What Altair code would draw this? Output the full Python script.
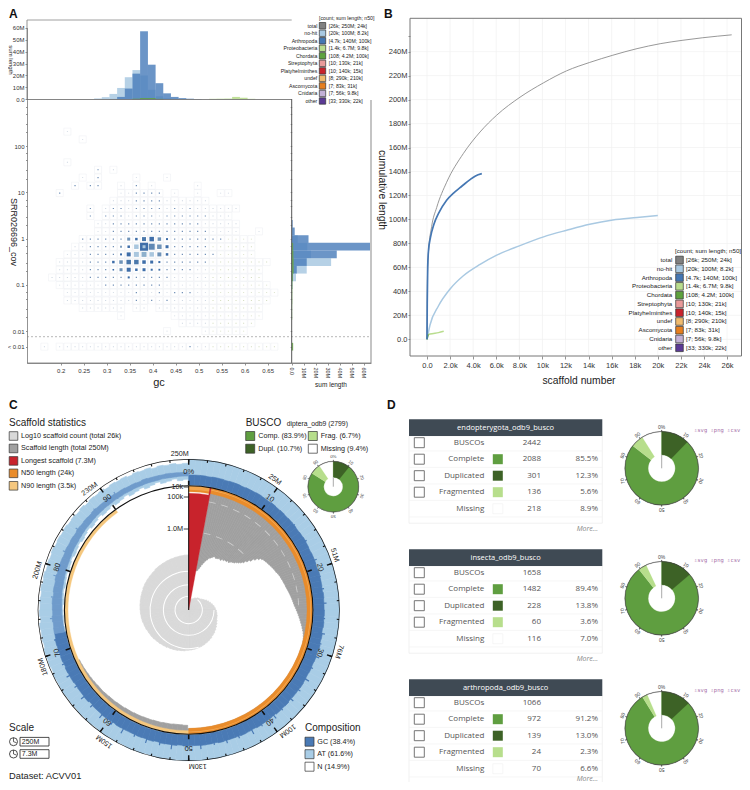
import math
import altair as alt
import pandas as pd

W, H = 734, 774
FONT = "Liberation Sans"
TFONT = "Open Sans"

# ---------- panel A data ----------
row_cov = [207, 141, 96, 66, 45, 31, 21, 14, 9.7, 6.6, 4.5, 3.1, 2.1, 1.44, 0.98, 0.67, 0.457, 0.312,
           0.213, 0.145, 0.099, 0.068, 0.046, 0.0316, 0.0214, 0.0148, 0.01, 0.0046]
def r(a, b):
    return list(range(a, b + 1))
row_cols = [[1], [3], [], [], [1], [5, 7], [3, 5, 10, 14], [2, 4, 5, 8, 10, 12, 18],
            [0, 8, 9, 10, 11, 12, 13, 15, 18, 21, 22], r(7, 19), [4] + r(6, 23), [4] + r(6, 22),
            r(5, 23), r(5, 23) + [26], r(3, 25), r(2, 25), r(1, 25), r(0, 27), r(0, 26), r(-1, 26),
            r(0, 27), r(1, 28), r(1, 27), r(3, 8) + [10, 11] + r(13, 26), [8] + r(15, 26), r(16, 25),
            [14] + r(19, 24), [-2] + r(0, 28)]
row_dark = {0: [], 1: [], 4: [], 5: [5], 6: [5], 7: [2, 4, 5, 10], 8: [0, 10, 11, 12, 13], 9: [10, 11, 12, 13],
            10: [4, 7, 8, 10, 11, 12, 13, 15, 17], 11: [4, 6, 7, 8, 10, 11, 12, 14, 15, 16, 17, 18, 19],
            12: r(7, 18), 13: r(7, 19), 14: r(3, 8) + r(15, 21), 15: r(4, 7) + r(15, 19), 16: r(4, 7) + r(15, 20),
            17: r(4, 6) + r(14, 19), 18: r(4, 7) + r(14, 17), 19: r(4, 14), 20: r(6, 13), 21: [10, 13, 15, 16, 17],
            22: [10, 12, 14], 27: [17]}
big_dots = [(11, 15, 8, "#3f6ea9"), (12, 15, 6, "#5f88b5"), (13, 15, 4.5, "#6f93b8"), (14, 15, 3, "#3f6ea9"),
            (10, 15, 4.5, "#a9c6de"), (9, 15, 2.5, "#3f6ea9"), (8, 15, 2, "#7f9fc0"), (11, 14, 4, "#4b78ab"),
            (12, 14, 4.5, "#3f6ea9"), (13, 14, 3.5, "#6f93b8"), (9, 14, 3, "#6f93b8"), (10, 14, 2.5, "#3f6ea9"),
            (14, 14, 2, "#3f6ea9"), (9, 16, 4, "#3f6ea9"), (10, 16, 5, "#a9c6de"), (11, 16, 5, "#8eb0cc"),
            (12, 16, 4.5, "#a9c6de"), (13, 16, 4, "#6f93b8"), (14, 16, 2.5, "#3f6ea9"), (8, 16, 2, "#3f6ea9"),
            (7, 17, 2.5, "#3f6ea9"), (8, 17, 3.5, "#6f93b8"), (9, 17, 4.5, "#4b78ab"), (10, 17, 4.5, "#4b78ab"),
            (11, 17, 3.5, "#3f6ea9"), (12, 17, 3, "#3f6ea9"), (13, 17, 2, "#3f6ea9"), (8, 18, 3, "#6f93b8"),
            (9, 18, 4, "#3f6ea9"), (10, 18, 2.5, "#3f6ea9"), (11, 18, 3, "#3f6ea9"), (12, 18, 2, "#3f6ea9"),
            (13, 18, 1.8, "#3f6ea9"), (7, 18, 1.5, "#3f6ea9"), (9, 19, 2, "#3f6ea9"), (11, 15, 3, "#a9c6de")]
top_nohit = {5: 0.7, 6: 1.8, 7: 4.5, 8: 9.5, 9: 18.5, 10: 24.5, 11: 20, 12: 8, 13: 2.5, 14: 1.0, 15: 0.5}
top_arth = {7: 0.3, 8: 2, 9: 9, 10: 21.5, 11: 57, 12: 29, 13: 13.5, 14: 5, 15: 2, 16: 1, 17: 0.5, 18: 0.2}
top_proteo = {20: 0.4, 21: 0.5, 22: 0.6, 23: 2, 24: 1.3, 25: 0.4}
top_chord = {10: 0.5, 11: 1.0, 12: 1.0, 13: 0.4}
side_nohit = {14: 5, 15: 13, 16: 16, 17: 32.8, 18: 12.5, 19: 3.6, 20: 0.7}
side_arth = {12: 0.8, 13: 2.5, 14: 14, 15: 66, 16: 37.5, 17: 12.5, 18: 4.2, 19: 0.8}
side_green = {15: 1.2, 16: 1.4, 17: 1.6, 18: 1.6, 19: 1.0, 20: 0.6, 21: 0.5, 22: 0.5, 23: 0.4, 24: 0.4, 27: 1.2}

lg_names = ["total", "no-hit", "Arthropoda", "Proteobacteria", "Chordata", "Streptophyta", "Platyhelminthes",
            "undef", "Ascomycota", "Cnidaria", "other"]
lg_stats = ["[26k; 250M; 24k]", "[20k; 100M; 8.2k]", "[4.7k; 140M; 100k]", "[1.4k; 6.7M; 9.8k]", "[108; 4.2M; 100k]",
            "[10; 130k; 21k]", "[10; 140k; 15k]", "[8; 290k; 210k]", "[7; 83k; 31k]", "[7; 56k; 9.8k]", "[33; 330k; 22k]"]
lg_colors = ["#808080", "#a9c9e2", "#4577b3", "#b9dd8e", "#5ea23e", "#e99a9a", "#c8232c", "#f0bb6e", "#e67f1f",
             "#c3b0d6", "#5b3a95"]

# ---------- panel B data ----------
total_x = [0, 0.03, 0.12, 0.4, 0.84, 1.7, 3.15, 4.6, 6.04, 8.06, 10.1, 12.1, 14.1, 16.1, 18.2, 20.2, 22.1, 23.9, 26.4]
total_y = [0, 47, 71.7, 94, 110, 131, 155, 173, 187, 202, 214, 224, 231, 237, 242.5, 246.6, 249.4, 251.6, 254]
arth_x = [0, 0.02, 0.06, 0.13, 0.3, 0.6, 1.0, 1.7, 2.3, 2.86, 3.3, 3.7, 4.2, 4.75]
arth_y = [0, 30, 60, 74, 85, 96, 105, 116, 122, 126.5, 130, 133, 136.3, 138.2]
nohit_x = [0, 0.26, 1, 2, 3.15, 4.6, 6, 8, 10.1, 12.1, 14.1, 16.1, 18.2, 20]
nohit_y = [0, 12, 28, 42, 53, 62.5, 70, 78, 85.5, 91, 96, 99.5, 101.6, 103.4]
proteo_x = [0, 0.02, 0.26, 1, 1.45]
proteo_y = [0, 3.5, 4.4, 5.6, 6.7]
chord_x = [0, 0.1]
chord_y = [0, 4.2]

# ---------- panel C data (radii in a 0-452 unit) ----------
gc_out = [405, 405, 405, 404, 405, 405, 404, 405, 405, 404, 405, 405, 406, 405, 405, 406, 405, 406, 405, 406, 406, 405, 406, 407,
          406, 405, 406, 406, 405, 407, 406, 406, 405, 407, 406, 406, 407, 406, 407, 405, 407, 406, 408, 406, 407, 406, 407, 406,
          407, 408, 407, 407, 406, 408, 407, 408, 406, 407, 407, 408, 406, 407, 408, 407, 407, 407, 408, 406, 407, 408, 407, 407,
          408, 406, 408, 407, 408, 406, 408, 407, 408, 407, 407, 407, 408, 406, 407, 408, 407, 407, 405, 408, 407, 407, 406, 408,
          408, 409, 407, 409, 408, 409, 410, 408, 409, 408, 410, 408, 409, 410, 408, 410, 409, 411, 409, 410, 410, 409, 411, 410,
          411, 410, 412, 411, 412, 411, 413, 412, 412, 412, 413, 412, 413, 412, 413, 412, 414, 413, 413, 413, 414, 413, 413, 413]
gc_spikes = [(14.2, 409), (16.5, 411), (19, 413), (21, 409), (22.5, 411), (24.2, 414), (26, 410), (27.8, 415), (29, 411), (30.6, 417),
             (32, 412), (33.5, 419), (35, 414), (36.4, 416), (38, 412), (39.2, 418), (41, 413), (42.3, 420), (44, 414), (45.5, 416),
             (47, 412), (48.6, 419), (50.2, 414), (52, 421), (53.4, 415), (55, 419), (56.5, 414), (58, 422), (59.5, 416), (61, 420),
             (62.6, 415), (64, 419), (65.5, 414), (67, 418), (68.5, 414), (70, 417), (71.5, 414), (74, 417), (76.5, 415), (79, 419),
             (82, 417), (85, 419), (88, 417), (91, 419)]
at_out = [452] * 72 + [452, 451, 452, 451, 452, 451, 450, 452, 451, 452, 450, 451, 450, 452, 451, 449, 451, 450, 451, 449, 450, 449, 451, 450,
                       449, 450, 447, 449, 448, 450, 446, 448, 447, 449, 445, 448, 446, 447, 445, 448, 445, 447, 444, 446, 444, 447, 444, 446,
                       444, 446, 443, 445, 442, 445, 441, 444, 442, 444, 440, 443, 441, 443, 439, 442, 440, 442, 438, 441, 439, 441, 438, 440]
at_in = [375] * 97 + [375, 375, 376, 375, 376, 377, 375, 376, 378, 376, 377, 379, 376, 378, 380, 377, 379, 381, 378, 380, 383, 379, 381, 384,
                      380, 383, 386, 381, 384, 388, 383, 385, 389, 384, 387, 391, 385, 388, 392, 386, 390, 394, 388, 391, 395, 389, 392]
gc_in = [375] * 104 + [378, 379, 380, 381, 381, 382, 383, 384, 384, 385, 386, 387, 387, 388, 389, 390, 390, 391, 392, 393,
                       393, 394, 395, 395, 396, 396, 397, 397, 398, 398, 399, 399, 400, 400, 400, 401, 401, 401, 402, 402]
gray_fine = [120, 122, 128, 134, 142, 148, 155, 160, 166, 169, 172, 176, 178, 175, 176, 178, 180, 177, 183, 181, 185, 184, 188, 186,
             191, 194, 196, 201, 205, 210, 216, 226, 236, 248, 258, 266, 270, 272, 274, 276, 278, 280, 282, 284, 285, 288, 290, 292,
             293, 295, 296, 298, 299, 301, 303, 305, 307, 309, 311, 313, 315, 317, 320, 323, 326, 329, 332, 335, 338, 341, 344, 347,
             350, 352, 354, 355]
gray_rest = [356] * 30 + [346, 345, 345, 346, 346, 347, 347, 348, 348, 349, 349, 350, 350, 351, 351, 352, 352, 353, 354, 354, 355, 356, 357, 358, 359, 360]
spiral = [27, 30, 33, 35, 37, 40, 42, 45, 47, 48, 52, 56, 61, 65, 69, 73, 77, 80, 83, 85, 87, 88, 91, 94, 97, 100, 103, 105, 108, 110,
          112, 114, 116, 117, 119, 120, 121, 123, 124, 126, 127, 128, 130, 131, 133, 134, 136, 137, 138, 140, 141, 143, 144, 145, 146,
          147, 148, 149, 150, 152, 153, 154, 155, 156, 158, 159, 160, 161, 162, 163, 164, 165]
outer_pct = [0, 10, 20, 30, 40, 50, 60, 70, 80, 90]
outer_lab = ["250M", "25M", "51M", "76M", "100M", "130M", "150M", "180M", "200M", "230M"]
inner_lab = ["0%", "10", "20", "30", "40", "50", "60", "70", "80", "90"]

# ---------- panel D data ----------
busco_names = ["endopterygota_odb9_busco", "insecta_odb9_busco", "arthropoda_odb9_busco"]
busco_labels = ["BUSCOs", "Complete", "Duplicated", "Fragmented", "Missing"]
busco_counts = [[2442, 2088, 301, 136, 218], [1658, 1482, 228, 60, 116], [1066, 972, 139, 24, 70]]
busco_pct = [["", "85.5%", "12.3%", "5.6%", "8.9%"], ["", "89.4%", "13.8%", "3.6%", "7.0%"], ["", "91.2%", "13.0%", "2.3%", "6.6%"]]
busco_swatch = [None, "#5f9e40", "#3d6226", "#b7de8c", "#ffffff"]
donut_vals = [(12.3, 85.5, 5.6), (13.8, 89.4, 3.6), (13.0, 91.2, 2.3)]

layers = []
one = alt.Data(values=[{}])
def px(v): return v - 8
def py(v): return v - 8
def sc(domain, a, b, **kw):
    return alt.Scale(domain=domain, range=[a - 8, b - 8], nice=False, zero=False, **kw)

def text(s, x, y, size=7, align="left", weight="normal", color="#222", angle=0, font=FONT, style="normal"):
    layers.append(alt.Chart(one).mark_text(align=align, baseline="middle", fontSize=size, fontWeight=weight, color=color,
                                           angle=angle, font=font, fontStyle=style)
                  .encode(x=alt.value(px(x)), y=alt.value(py(y)), text=alt.value(s)))
def box(x0, y0, x1, y1, fill="transparent", stroke="transparent", sw=0.8):
    layers.append(alt.Chart(one).mark_rect(fill=fill, stroke=stroke, strokeWidth=sw, opacity=1)
                  .encode(x=alt.value(px(x0)), x2=alt.value(px(x1)), y=alt.value(py(y0)), y2=alt.value(py(y1))))
def rule(x0, y0, x1, y1, color="#666", sw=1, dash=None):
    kw = {"strokeDash": dash} if dash else {}
    layers.append(alt.Chart(one).mark_rule(color=color, strokeWidth=sw, **kw)
                  .encode(x=alt.value(px(x0)), x2=alt.value(px(x1)), y=alt.value(py(y0)), y2=alt.value(py(y1))))

def legend(names, stats, colors, x_name, x_sw, x_val, y0, step, size, side, font=FONT):
    df = pd.DataFrame({"i": range(len(names)), "name": names, "color": colors})
    df["stat"] = stats if stats else ""
    y = alt.Y("i:Q", scale=sc([0, 1], y0, y0 + step), axis=None)
    base = alt.Chart(df)
    if x_name is not None:
        layers.append(base.mark_text(align="right", baseline="middle", fontSize=size, font=font, color="#222")
                      .encode(x=alt.value(px(x_name)), y=y, text="name:N"))
    layers.append(base.mark_square(size=side * side, stroke="#333", strokeWidth=0.7, opacity=1)
                  .encode(x=alt.value(px(x_sw)), y=y, fill=alt.Fill("color:N", scale=None)))
    col = "stat:N" if stats else "name:N"
    layers.append(base.mark_text(align="left", baseline="middle", fontSize=size, font=font, color="#222")
                  .encode(x=alt.value(px(x_val)), y=y, text=col))

def arcs(df, cx, cy, dom, rng, **kw):
    layers.append(alt.Chart(df).mark_arc(strokeWidth=kw.pop("sw", 0.35), **kw).encode(
        x=alt.value(px(cx)), y=alt.value(py(cy)),
        theta=alt.Theta("t0:Q", scale=alt.Scale(domain=[0, 100], range=[0, 2 * math.pi], nice=False, zero=False), stack=None),
        theta2=alt.Theta2("t1:Q"),
        radius=alt.Radius("r0:Q", scale=alt.Scale(type="linear", domain=[0, dom], range=[0, rng], nice=False, zero=False)),
        radius2=alt.Radius2("r1:Q"),
        fill=alt.Fill("c:N", scale=None), stroke=alt.Stroke("c:N", scale=None)))
def polar_text(df, cx, cy, dom, rng, size, align="center", baseline="middle", color="#222"):
    layers.append(alt.Chart(df).mark_text(align=align, baseline=baseline, fontSize=size, font=FONT, color=color).encode(
        x=alt.value(px(cx)), y=alt.value(py(cy)),
        theta=alt.Theta("t:Q", scale=alt.Scale(domain=[0, 100], range=[0, 2 * math.pi], nice=False, zero=False), stack=None),
        radius=alt.Radius("r:Q", scale=alt.Scale(type="linear", domain=[0, dom], range=[0, rng], nice=False, zero=False)),
        angle=alt.Angle("rot:Q", scale=None), text="s:N"))
def seg(t0, t1, r0, r1, c):
    return {"t0": t0, "t1": t1, "r0": r0, "r1": r1, "c": c}

# ---------- A: top histogram ----------
gc_of = lambda c: 0.1978 + 0.016667 * c
HW = 0.0085
gx_dom = [0.1267, 0.7022]
def hist_top(d, color, op):
    df = pd.DataFrame({"a": [gc_of(c) - HW for c in d], "b": [gc_of(c) + HW for c in d], "v": list(d.values())})
    layers.append(alt.Chart(df).mark_rect(color=color, opacity=op).encode(
        x=alt.X("a:Q", scale=sc(gx_dom, 27, 291.7), axis=None), x2="b:Q",
        y=alt.Y("v:Q", scale=sc([0, 60], 99.3, 27.7), axis=None), y2=alt.Y2(datum=0)))
hist_top(top_nohit, "#a9c9e2", 0.85)
hist_top(top_arth, "#4a7ebb", 0.82)
hist_top(top_proteo, "#b9dd8e", 0.9)
hist_top(top_chord, "#5ea23e", 0.9)
layers.append(alt.Chart(pd.DataFrame({"v": [0, 10, 20, 30, 40, 50, 60]})).mark_tick(opacity=0).encode(
    y=alt.Y("v:Q", scale=sc([0, 60], 99.3, 27.7),
            axis=alt.Axis(orient="left", offset=-(27 - 8), values=[0, 10, 20, 30, 40, 50, 60], title=None, grid=False,
                          labelExpr="datum.value==0?'0.0':datum.value+'M'", labelFontSize=6, tickSize=2, labelPadding=1))))
rule(27, 20, 27, 100, "#777", 0.8)
rule(27, 20, 291.7, 20, "#888", 0.8)
rule(27, 99.5, 291.7, 99.5, "#666", 0.8)
text("sum length", 11.2, 60, 6, "center", angle=90)
legend(lg_names, lg_stats, lg_colors, 317.3, 322.5, 328.7, 25.7, 7.53, 5.2, 6.4)
text("[count; sum length; n50]", 319, 18, 5.2)

# ---------- A: scatter ----------
fr = []
dots = []
for k, cols in enumerate(row_cols):
    dark = set(row_dark.get(k, []))
    for c in cols:
        fr.append({"gc": gc_of(c), "cov": row_cov[k]})
        if c in dark:
            col, side = "#6d8db5", 1.2
        elif c >= 20 and k >= 14:
            col, side = "#ccd6b4", 0.9
        else:
            col, side = "#c3cedb", 0.9
        dots.append({"gc": gc_of(c), "cov": row_cov[k], "side2": side * side, "col": col})
for c, k, side, col in big_dots:
    dots.append({"gc": gc_of(c), "cov": row_cov[k], "side2": side * side, "col": col})
gx = alt.X("gc:Q", scale=sc(gx_dom, 27, 291.7), axis=None)
gy = alt.Y("cov:Q", scale=sc([0.00204, 1023], 363, 99.6, type="log"), axis=None)
layers.append(alt.Chart(pd.DataFrame(fr)).mark_square(size=50, filled=False, stroke="#eceff2", strokeWidth=0.5, opacity=1)
              .encode(x=gx, y=gy))
layers.append(alt.Chart(pd.DataFrame(dots)).mark_square(opacity=1).encode(
    x=gx, y=gy, size=alt.Size("side2:Q", scale=None), fill=alt.Fill("col:N", scale=None)))
rule(27, 336.7, 371, 336.7, "#888", 0.6, [2, 2])
log_ticks = [0.0046, 0.01, 0.02, 0.03, 0.05, 0.07, 0.1, 0.2, 0.3, 0.5, 0.7, 1, 2, 3, 5, 7, 10, 20, 30, 50, 70, 100, 200, 300, 500, 700]
lab_expr = "datum.value<0.01?'< 0.01':(indexof([0.01,0.1,1,10,100],datum.value)>=0?format(datum.value,'~g'):'')"
layers.append(alt.Chart(pd.DataFrame({"cov": log_ticks})).mark_tick(opacity=0).encode(
    y=alt.Y("cov:Q", scale=sc([0.00204, 1023], 363, 99.6, type="log"),
            axis=alt.Axis(orient="left", offset=-(27 - 8), values=log_ticks, title=None, grid=False, labelExpr=lab_expr,
                          labelFontSize=6, tickSize=1.5, labelPadding=1.5, labelOverlap=False))))
gc_ticks = [0.2, 0.25, 0.3, 0.35, 0.4, 0.45, 0.5, 0.55, 0.6, 0.65]
layers.append(alt.Chart(pd.DataFrame({"gc": gc_ticks})).mark_tick(opacity=0).encode(
    x=alt.X("gc:Q", scale=sc(gx_dom, 27, 291.7),
            axis=alt.Axis(orient="bottom", offset=(363 - 8) - H, values=gc_ticks, title=None, grid=False, format="~g",
                          labelFontSize=6, tickSize=2, labelPadding=2))))
text("SRR026696_cov", 13.5, 232, 9, "center", angle=90)
text("gc", 159, 383, 11, "center")

# ---------- A: side histogram ----------
def hist_side(d, color, op):
    df = pd.DataFrame({"a": [row_cov[k] * 10 ** (-1 / 12) for k in d], "b": [row_cov[k] * 10 ** (1 / 12) for k in d],
                       "v": list(d.values())})
    layers.append(alt.Chart(df).mark_rect(color=color, opacity=op).encode(
        x=alt.X("v:Q", scale=sc([0, 66], 291.7, 371), axis=None), x2=alt.X2(datum=0),
        y=alt.Y("a:Q", scale=sc([0.00204, 1023], 363, 99.6, type="log"), axis=None), y2="b:Q"))
hist_side(side_nohit, "#a9c9e2", 0.85)
hist_side(side_arth, "#4a7ebb", 0.82)
hist_side(side_green, "#6aa84a", 0.9)
sum_ticks = [0, 10, 20, 30, 40, 50, 60]
layers.append(alt.Chart(pd.DataFrame({"v": sum_ticks})).mark_tick(opacity=0).encode(
    x=alt.X("v:Q", scale=sc([0, 66], 291.7, 371),
            axis=alt.Axis(orient="bottom", offset=(363 - 8) - H, values=sum_ticks, title=None, grid=False,
                          labelExpr="datum.value==0?'0.0':datum.value+'M'", labelAngle=90, labelAlign="left",
                          labelBaseline="middle", labelFontSize=5.5, tickSize=2, labelPadding=2))))
rule(291.7, 99, 291.7, 363, "#555", 1)
rule(371, 100, 371, 363, "#c4c4c4", 2)
rule(27, 363, 371, 363, "#777", 0.8)
layers.append(alt.Chart(pd.DataFrame({"cov": log_ticks})).mark_tick(opacity=0).encode(
    y=alt.Y("cov:Q", scale=sc([0.00204, 1023], 363, 99.6, type="log"),
            axis=alt.Axis(orient="left", offset=-(291.7 - 8), values=log_ticks, title=None, grid=False, labels=False,
                          tickSize=1.5, domain=False))))
text("sum length", 331, 385, 6.5, "center")

# ---------- B ----------
bx_dom = [-1.473, 27.25]
by_dom = [-13.9, 267.8]
bxt = list(range(0, 27, 2))
byt = list(range(0, 241, 20))
BR = 741.5
bxs = lambda: sc(bx_dom, 410, BR)
bys = lambda: sc(by_dom, 356, 18.3)
layers.append(alt.Chart(pd.DataFrame({"v": bxt})).mark_rule(color="#f1f1f1", strokeWidth=0.7).encode(
    x=alt.X("v:Q", scale=bxs(), axis=None), y=alt.value(py(18.3)), y2=alt.value(py(356))))
layers.append(alt.Chart(pd.DataFrame({"v": byt})).mark_rule(color="#f1f1f1", strokeWidth=0.7).encode(
    y=alt.Y("v:Q", scale=bys(), axis=None), x=alt.value(px(410)), x2=alt.value(px(BR))))
box(410, 18.3, BR, 356, "transparent", "#777", 1)
def curve(xs, ys, color, sw):
    df = pd.DataFrame({"x": xs, "y": ys})
    layers.append(alt.Chart(df).mark_line(color=color, strokeWidth=sw, interpolate="monotone").encode(
        x=alt.X("x:Q", scale=bxs(), axis=None), y=alt.Y("y:Q", scale=bys(), axis=None)))
curve(total_x, total_y, "#8c8c8c", 0.9)
curve(nohit_x, nohit_y, "#a9c9e2", 1.5)
curve(proteo_x, proteo_y, "#b9dd8e", 1.5)
curve(chord_x, chord_y, "#5ea23e", 1.5)
curve(arth_x, arth_y, "#4577b3", 1.7)
layers.append(alt.Chart(pd.DataFrame({"v": bxt})).mark_tick(opacity=0).encode(
    x=alt.X("v:Q", scale=bxs(), axis=alt.Axis(orient="bottom", offset=(356 - 8) - H, values=bxt, title=None, grid=False, domain=False,
            labelExpr="datum.value==0?'0.0':(datum.value<10?format(datum.value,'.1f')+'k':datum.value+'k')",
            labelFontSize=7.5, tickSize=3, labelPadding=2))))
byt2 = byt + [253]
layers.append(alt.Chart(pd.DataFrame({"v": byt2})).mark_tick(opacity=0).encode(
    y=alt.Y("v:Q", scale=bys(), axis=alt.Axis(orient="left", offset=-(410 - 8), values=byt2, title=None, grid=False, domain=False,
            labelExpr="datum.value==0?'0.0':(datum.value==253?'':datum.value+'M')", labelFontSize=7.5, tickSize=2, labelPadding=1))))
text("scaffold number", 579, 381, 10.3, "center")
text("cumulative length", 382, 190, 10.3, "center", angle=90)
legend(lg_names, lg_stats, lg_colors, 672.3, 679.5, 686, 260, 8.78, 6.2, 7.6)
text("[count; sum length; n50]", 675, 251, 6.2)

# ---------- C: snail ----------
CX, CY = 188.7, 610
DOM, RNG = 452, 150.7
BIN = 100 / 144
def snail(rows, **kw):
    arcs(pd.DataFrame(rows), CX, CY, DOM, RNG, **kw)
snail([seg(i * 5 / 3.6, (i + 1) * 5 / 3.6, 0, v, "#d9d9d9") for i, v in enumerate(spiral)], sw=0.7)
snail([seg(a / 3.6, 100, v - 1.5, v + 1.5, "#ffffff") for a, v in [(165, 116), (90, 76), (40, 41)]], sw=0)
gray_rows = [seg((10.5 + 1.25 * i) / 3.6, (11.75 + 1.25 * i) / 3.6, v, 365, "#a0a0a0") for i, v in enumerate(gray_fine)]
gray_rows += [seg((105.5 + 2.5 * i) / 3.6, (108 + 2.5 * i) / 3.6, v, 365, "#a0a0a0") for i, v in enumerate(gray_rest)]
snail(gray_rows, sw=0.7)
dashes = []
for rr, a, b in [(330, 10.5, 87), (235, 11, 47)]:
    t = a
    while t < b:
        dashes.append(seg(t / 3.6, (t + (1200 / rr)) / 3.6, rr - 1.2, rr + 1.2, "#cfcfcf"))
        t += 2200 / rr
snail(dashes, sw=0)
snail([seg(0, 90, 362, 372, "#f5c77e")])
snail([seg(0, 50, 355, 372, "#e98c2b")])
snail([seg(0, 50, 365, 367, "#f2ae5e"), seg(0, 2.9, 361, 371, "#f2a64e")], sw=0)
snail([seg(0, 2.9, 0, 350, "#c8232c"), seg(2.75, 2.9, 350, 372, "#c8232c")])
snail([seg(i * BIN, (i + 1) * BIN, a, b, "#a9cde6") for i, (a, b) in enumerate(zip(at_in, at_out))], sw=0.6)
snail([seg(i * BIN, (i + 1) * BIN, a, b, "#4a7ab5" if i < 104 else "#6f9bcb") for i, (a, b) in enumerate(zip(gc_in, gc_out))], sw=0.6)
snail([seg(p - 0.07, p + 0.07, 395, v, "#4a7ab5" if p < 72 else "#6f9bcb") for p, v in gc_spikes], sw=0)
snail([seg(0, 100, 371, 374.5, "#111"), seg(0, 100, 451, 453, "#111")], sw=0)
mticks = [seg(p - 0.06, p + 0.06, 445, 452, "#111") for p in range(0, 100, 2)]
mticks += [seg(p - 0.08, p + 0.08, 436, 452, "#111") for p in outer_pct]
mticks += [seg(p - 0.1, p + 0.1, 374, 388, "#111") for p in outer_pct]
snail(mticks, sw=0)
polar_text(pd.DataFrame({"t": outer_pct, "r": [456] * 10, "rot": [p * 3.6 for p in outer_pct], "s": outer_lab}),
           CX, CY, DOM, RNG, 7.2, align="right", baseline="bottom")
polar_text(pd.DataFrame({"t": outer_pct, "r": [414] * 10, "rot": [p * 3.6 for p in outer_pct], "s": inner_lab}),
           CX, CY, DOM, RNG, 7.5)
rule(CX, CY - 124, CX, CY, "#111", 1)
for lab, yy in [("10k", 487), ("100k", 497), ("1.0M", 529)]:
    rule(CX - 5, yy, CX, yy, "#111", 0.8)
    text(lab, CX - 5.5, yy - 0.3, 7.3, "right")

text("Scaffold statistics", 9, 422.7, 10)
sc_names = ["Log10 scaffold count (total 26k)", "Scaffold length (total 250M)", "Longest scaffold (7.3M)", "N50 length (24k)", "N90 length (3.5k)"]
sc_cols = ["#d9d9d9", "#a0a0a0", "#c8232c", "#e98c2b", "#f5c77e"]
legend(sc_names, None, sc_cols, None, 13.5, 21, 436, 12.45, 7.2, 8.6)
text("BUSCO", 245.7, 423, 10)
text("diptera_odb9 (2799)", 286.7, 424, 6.8)
legend(["Comp. (83.9%)", "Dupl. (10.7%)"], None, ["#5f9e40", "#3d6226"], None, 250.2, 258.3, 436, 12.7, 7.2, 9)
legend(["Frag. (6.7%)", "Missing (9.4%)"], None, ["#b7de8c", "#ffffff"], None, 312.8, 320.7, 436, 12.7, 7.2, 9)
text("Scale", 9, 728, 10)
for yy, lab in [(741.7, "250M"), (754, "7.3M")]:
    layers.append(alt.Chart(one).mark_point(shape="circle", size=64, filled=False, stroke="#222", strokeWidth=0.8, opacity=1)
                  .encode(x=alt.value(px(13.5)), y=alt.value(py(yy))))
    rule(13.5, yy - 4, 13.5, yy, "#222", 0.7)
    rule(13.5, yy, 16.5, yy + 1, "#222", 0.7)
    box(20, yy - 4.3, 49, yy + 4.3, "#ffffff", "#222", 0.8)
    text(lab, 21.8, yy, 7)
text("Dataset: ACVV01", 9, 776, 9.3)
text("Composition", 305, 728, 10)
legend(["GC (38.4%)", "AT (61.6%)", "N (14.9%)"], None, ["#4a7ab5", "#a9cde6", "#ffffff"], None, 309.5, 317.3, 741.7, 12.5, 7.2, 9)

# ---------- donuts ----------
def donut(cx, cy, R, hole, dup, comp, frag, lab_size, lab_r):
    rows = [seg(0, comp, hole, R, "#5f9e40"), seg(0, dup, hole, R, "#3d6226"), seg(comp, comp + frag, hole, R, "#b7de8c"),
            seg(0, 100, R - 0.2, R + 0.3, "#444")]
    rows += [seg(p - 0.15, p + 0.15, R, R + 1.5, "#444") for p in outer_pct]
    arcs(pd.DataFrame(rows), cx, cy, R + 10, R + 10, sw=0.2)
    rule(cx, cy - hole, cx, cy, "#aaa", 1)
    polar_text(pd.DataFrame({"t": outer_pct, "r": [lab_r] * 10, "rot": [p * 3.6 for p in outer_pct],
                             "s": ["0%"] + [str(p) for p in outer_pct[1:]]}), cx, cy, R + 10, R + 10, lab_size, color="#444")
donut(333.3, 486.7, 25.3, 9.5, 10.7, 83.9, 6.7, 4.4, 29.5)
for t, (d, c, f) in enumerate(donut_vals):
    donut(661.7, 468.3 + 130 * t, 36.7, 13.5, d, c, f, 5, 41.5)
    text("\u21e9svg \u21e9png \u21e9csv", 694, 430 + 130 * t, 5.5, color="#a66fa8", font="DejaVu Sans Mono")

# ---------- D: tables ----------
SL = 130 / 16.5
slot = lambda: sc([0, 1], 442.7, 459.2)
rows = []
heads = []
more_at = [5.25, 5.25, 4.65]
for t, name in enumerate(busco_names):
    heads.append({"name": name, "y0": t * SL - 1.42, "y1": t * SL - 0.41, "yc": t * SL - 0.912, "b0": t * SL - 0.41,
                  "b1": t * SL + 4.88, "m": t * SL + more_at[t]})
    for i, lab in enumerate(busco_labels):
        rows.append({"slot": t * SL + i, "lab": lab, "count": str(busco_counts[t][i]), "pct": busco_pct[t][i],
                     "sw": busco_swatch[i] or "", "line": t * SL + i + 0.5, "cb": i < 4})
R = pd.DataFrame(rows)
Hd = pd.DataFrame(heads)
Y = alt.Y("slot:Q", scale=slot(), axis=None)
layers.append(alt.Chart(Hd).mark_rect(fill="#ffffff", stroke="#eeeeee", strokeWidth=0.8).encode(
    x=alt.value(px(409)), x2=alt.value(px(602.3)), y=alt.Y("b0:Q", scale=slot(), axis=None), y2="b1:Q"))
layers.append(alt.Chart(R).mark_rule(color="#f2f2f2", strokeWidth=0.7).encode(
    x=alt.value(px(409)), x2=alt.value(px(602.3)), y=alt.Y("line:Q", scale=slot(), axis=None)))
layers.append(alt.Chart(Hd).mark_rect(fill="#3f4a54").encode(
    x=alt.value(px(409)), x2=alt.value(px(602.3)), y=alt.Y("y0:Q", scale=slot(), axis=None), y2="y1:Q"))
layers.append(alt.Chart(Hd).mark_text(fontSize=7.5, font=TFONT, color="#ffffff", align="center", baseline="middle").encode(
    x=alt.value(px(505.6)), y=alt.Y("yc:Q", scale=slot(), axis=None), text="name:N"))
layers.append(alt.Chart(R[R.cb]).mark_square(size=100, filled=False, stroke="#666", strokeWidth=0.9, opacity=1).encode(
    x=alt.value(px(419.3)), y=Y))
layers.append(alt.Chart(R[R.sw != ""]).mark_square(size=100, opacity=1, strokeWidth=0.5).encode(
    x=alt.value(px(497.8)), y=Y, fill=alt.Fill("sw:N", scale=None),
    stroke=alt.condition("datum.sw=='#ffffff'", alt.value("#eeeeee"), alt.value("transparent"))))
for col, xx in [("lab", 484.3), ("count", 541), ("pct", 598)]:
    layers.append(alt.Chart(R).mark_text(fontSize=8, font=TFONT, color="#555", align="right", baseline="middle").encode(
        x=alt.value(px(xx)), y=Y, text=f"{col}:N"))
layers.append(alt.Chart(Hd.assign(s="More...")).mark_text(fontSize=7, font=TFONT, fontStyle="italic", color="#888", align="right",
                                                          baseline="middle").encode(
    x=alt.value(px(598)), y=alt.Y("m:Q", scale=slot(), axis=None), text="s:N"))

# ---------- panel letters ----------
text("A", 9, 14, 12, weight="bold", color="#111")
text("B", 384, 14, 12, weight="bold", color="#111")
text("C", 9, 405, 12, weight="bold", color="#111")
text("D", 387, 405, 12, weight="bold", color="#111")

chart = (alt.layer(*layers)
         .resolve_scale(x="independent", y="independent", theta="independent", radius="independent")
         .resolve_axis(x="independent", y="independent")
         .properties(width=W, height=H, padding=0, background="#ffffff",
                     autosize=alt.AutoSizeParams(type="none"))
         .configure_view(stroke=None)
         .configure_axis(labelFont=FONT, labelColor="#333", tickColor="#666", domainColor="#777", tickWidth=0.7, domainWidth=0.8))
chart.save("out.html", embed_options={"renderer": "svg", "actions": False})
